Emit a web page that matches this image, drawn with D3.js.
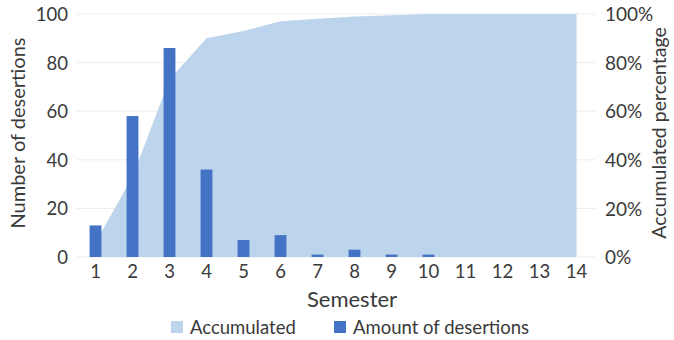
<!DOCTYPE html>
<html><head><meta charset="utf-8">
<script src="https://cdn.jsdelivr.net/npm/d3@7"></script>
<style>body{margin:0;background:#fff;} svg{display:block;} text{font-family:Lato, "Open Sans", sans-serif;fill:#3a3a3a;}</style>
</head><body>
<svg id="c" width="674" height="340"></svg>
<script>
const semesters = [1,2,3,4,5,6,7,8,9,10,11,12,13,14];
const desertions = [13,58,86,36,7,9,1,3,1,1,0,0,0,0];
const accumulatedPct = [6,33,73,90,93,97,98,99,99.5,100,100,100,100,100];
const leftTicks = [0,20,40,60,80,100];
const rightTicks = [0,20,40,60,80,100];

const svg = d3.select("#c");
const L = 77, R = 595, T = 14, B = 257;
const x = d3.scaleBand().domain(semesters).range([L, R]).paddingInner(0.68).paddingOuter(0.34);
const xc = d => x(d) + x.bandwidth()/2;
const yL = d3.scaleLinear().domain([0,100]).range([B, T]);
const yR = d3.scaleLinear().domain([0,100]).range([B, T]);

// gridlines
svg.append("g").selectAll("line").data(leftTicks).join("line")
  .attr("x1", L).attr("x2", R).attr("y1", d=>yL(d)).attr("y2", d=>yL(d))
  .attr("stroke", "#ececec").attr("stroke-width", 1);

// area
const area = d3.area().x((d,i)=>xc(semesters[i])).y0(yR(0)).y1(d=>yR(d));
svg.append("path").datum(accumulatedPct).attr("d", area).attr("fill", "#bdd5ec");

// bars
svg.append("g").selectAll("rect").data(desertions).join("rect")
  .attr("x", (d,i)=>x(semesters[i])).attr("width", x.bandwidth())
  .attr("y", d=>yL(d)).attr("height", d=>yL(0)-yL(d))
  .attr("fill", "#4472c4");

// left axis
const gl = svg.append("g").attr("transform", `translate(${L-9},0)`)
  .call(d3.axisLeft(yL).tickValues(leftTicks).tickSize(0).tickPadding(0));
gl.select(".domain").remove();
gl.selectAll("text").style("font-size","18.5px").attr("fill","#3a3a3a").attr("dy","0.35em");

// right axis
const gr = svg.append("g").attr("transform", `translate(${R+10},0)`)
  .call(d3.axisRight(yR).tickValues(rightTicks).tickSize(0).tickPadding(0).tickFormat(d=>d+"%"));
gr.select(".domain").remove();
gr.selectAll("text").style("font-size","19px").attr("fill","#3a3a3a").attr("dy","0.35em");

// bottom axis
const gb = svg.append("g").attr("transform", `translate(0,${B})`)
  .call(d3.axisBottom(x).tickSize(0).tickPadding(8));
gb.select(".domain").remove();
gb.selectAll("text").style("font-size","18.5px").attr("fill","#3a3a3a");

// titles
svg.append("text").attr("x", 352).attr("y", 307).attr("text-anchor","middle")
  .style("font-size","22px").text("Semester");
svg.append("text").attr("transform","translate(25,133) rotate(-90)").attr("text-anchor","middle")
  .style("font-size","20px").text("Number of desertions");
svg.append("text").attr("transform","translate(666,133) rotate(-90)").attr("text-anchor","middle")
  .style("font-size","19.5px").text("Accumulated percentage");

// legend
const leg = svg.append("g");
leg.append("rect").attr("x",171).attr("y",321).attr("width",12).attr("height",12).attr("fill","#bdd5ec");
leg.append("text").attr("x",190).attr("y",334).style("font-size","18.5px").text("Accumulated");
leg.append("rect").attr("x",334).attr("y",321).attr("width",12).attr("height",12).attr("fill","#4472c4");
leg.append("text").attr("x",353).attr("y",334).style("font-size","18.5px").text("Amount of desertions");
</script>
</body></html>
